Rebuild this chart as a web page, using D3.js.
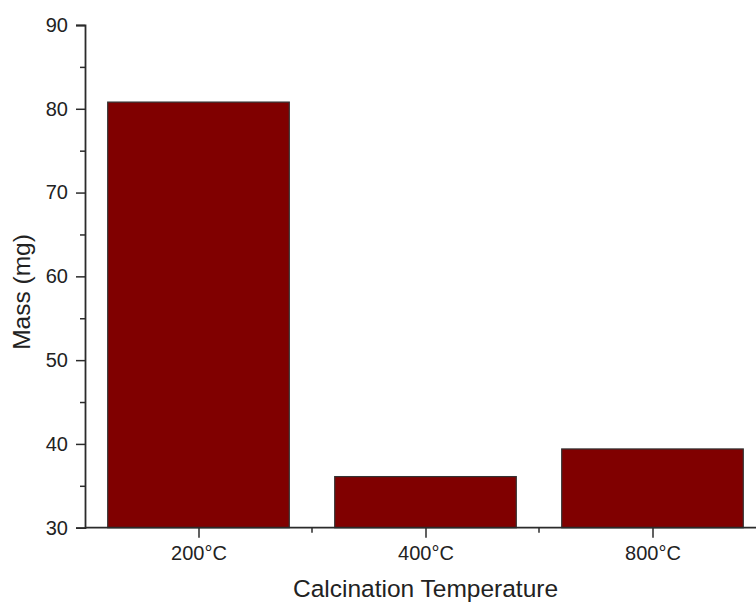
<!DOCTYPE html>
<html>
<head>
<meta charset="utf-8">
<script src="https://cdn.jsdelivr.net/npm/d3@7"></script>
<style>
  html, body { margin: 0; padding: 0; background: #fff; }
  svg { display: block; }
  text { font-family: "Liberation Sans", Arial, sans-serif; fill: #222; }
</style>
</head>
<body>
<svg id="chart" width="756" height="602"></svg>
<script>
// Sample mass after calcination at each temperature
const categories = ["200°C", "400°C", "800°C"];
const massValues = [80.8, 36.1, 39.4];
const yTicks = [30, 40, 50, 60, 70, 80, 90];
const yMinorTicks = [35, 45, 55, 65, 75, 85];

const svg = d3.select("#chart");
const axisColor = "#2b2b2b";

const x0 = 85, x1 = 766, yTop = 25, yBottom = 527.7;

const x = d3.scaleBand().domain(categories).range([x0, x1]).paddingInner(0.2).paddingOuter(0.1);
const y = d3.scaleLinear().domain([30, 90]).range([yBottom, yTop]);

// Bars
svg.append("g").selectAll("rect").data(categories).join("rect")
  .attr("x", d => x(d))
  .attr("width", x.bandwidth())
  .attr("y", (d, i) => y(massValues[i]))
  .attr("height", (d, i) => y(30) - y(massValues[i]))
  .attr("fill", "#800000")
  .attr("stroke", "#333")
  .attr("stroke-width", 1.2);

// Y axis: major ticks with labels, minor ticks between
const yAxis = d3.axisLeft(y).tickValues(yTicks).tickSize(9).tickPadding(8).tickFormat(d3.format("d"));
const gy = svg.append("g").attr("transform", `translate(${x0},0)`).call(yAxis);
gy.select(".domain").attr("stroke", axisColor).attr("stroke-width", 1.8);
gy.selectAll(".tick line").attr("stroke", axisColor).attr("stroke-width", 1.5);
gy.selectAll(".tick text").style("font-size", "20px").attr("fill", "#222");

const gyMinor = svg.append("g").attr("transform", `translate(${x0},0)`)
  .call(d3.axisLeft(y).tickValues(yMinorTicks).tickSize(5).tickFormat(""));
gyMinor.select(".domain").remove();
gyMinor.selectAll(".tick line").attr("stroke", axisColor).attr("stroke-width", 1.5);

// X axis: ticks at category centres, minor ticks at band boundaries
const xCenter = d3.scalePoint().domain(categories).range([x(categories[0]) + x.bandwidth() / 2, x(categories[2]) + x.bandwidth() / 2]);
const gx = svg.append("g").attr("transform", `translate(0,${yBottom})`)
  .call(d3.axisBottom(xCenter).tickSize(10).tickPadding(8).tickSizeOuter(0));
gx.select(".domain").remove();
gx.selectAll(".tick line").attr("stroke", axisColor).attr("stroke-width", 1.5);
gx.selectAll(".tick text").style("font-size", "20px").attr("fill", "#222");

svg.append("line")
  .attr("x1", x0).attr("x2", x1)
  .attr("y1", yBottom).attr("y2", yBottom)
  .attr("stroke", axisColor).attr("stroke-width", 1.8);

const step = x.step();
const boundaries = categories.slice(0, 2).map(c => x(c) + x.bandwidth() / 2 + step / 2);
svg.append("g").selectAll("line").data(boundaries).join("line")
  .attr("x1", d => d).attr("x2", d => d)
  .attr("y1", yBottom).attr("y2", yBottom + 5)
  .attr("stroke", axisColor).attr("stroke-width", 1.5);

// Axis titles
svg.append("text")
  .attr("x", 425.5).attr("y", 597)
  .attr("text-anchor", "middle")
  .style("font-size", "24.5px")
  .text("Calcination Temperature");

svg.append("text")
  .attr("transform", "translate(30,292) rotate(-90)")
  .attr("text-anchor", "middle")
  .style("font-size", "24.5px")
  .text("Mass (mg)");
</script>
</body>
</html>
